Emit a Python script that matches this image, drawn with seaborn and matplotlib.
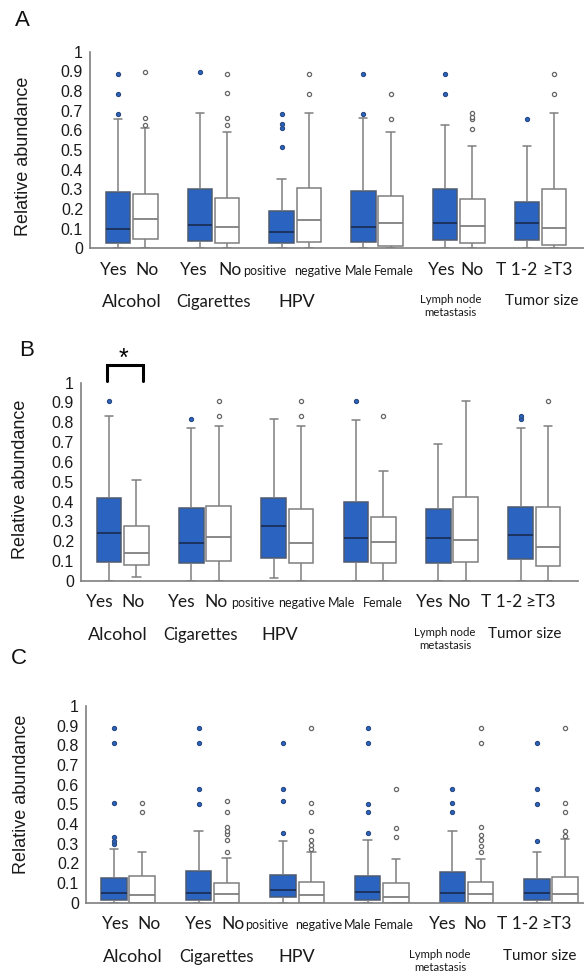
import numpy as np
import pandas as pd
import matplotlib
matplotlib.use("Agg")
import matplotlib.pyplot as plt
import seaborn as sns

# ---------------- data ----------------
levels = ["Yes", "No", "Yes", "No", "positive", "negative", "Male", "Female",
          "Yes", "No", "T 1-2", "\u2265T3"]
groups = ["Alcohol", "Cigarettes", "HPV", "", "Lymph node\nmetastasis", "Tumor size"]
yticklabels = ["0", "0.1", "0.2", "0.3", "0.4", "0.5", "0.6", "0.7", "0.8", "0.9", "1"]
yticks = [0, 0.1, 0.2, 0.3, 0.4, 0.5, 0.6, 0.7, 0.8, 0.9, 1.0]

# Panel A
A_whislo = [0, 0, 0, 0, 0, 0, 0, 0, 0, 0, 0, 0]
A_q1 = [0.029, 0.047, 0.037, 0.025, 0.025, 0.030, 0.034, 0.012, 0.042, 0.029, 0.041, 0.019]
A_med = [0.097, 0.147, 0.120, 0.108, 0.081, 0.142, 0.108, 0.129, 0.129, 0.112, 0.129, 0.103]
A_q3 = [0.288, 0.275, 0.300, 0.258, 0.190, 0.305, 0.292, 0.268, 0.303, 0.249, 0.234, 0.302]
A_whishi = [0.658, 0.610, 0.686, 0.590, 0.351, 0.686, 0.661, 0.590, 0.627, 0.522, 0.522, 0.686]
A_out = [[0.683, 0.785, 0.886], [0.627, 0.664, 0.898], [0.898], [0.627, 0.664, 0.788, 0.886],
         [0.517, 0.610, 0.632, 0.683], [0.786, 0.886], [0.683, 0.886], [0.658, 0.786],
         [0.786, 0.886], [0.607, 0.656, 0.669, 0.686], [0.658], [0.786, 0.886]]

# Panel B
B_whislo = [0, 0.017, 0, 0, 0.012, 0, 0, 0, 0, 0, 0, 0]
B_q1 = [0.096, 0.081, 0.089, 0.099, 0.113, 0.088, 0.093, 0.088, 0.089, 0.094, 0.108, 0.072]
B_med = [0.239, 0.138, 0.192, 0.219, 0.274, 0.190, 0.214, 0.197, 0.214, 0.207, 0.232, 0.170]
B_q3 = [0.418, 0.276, 0.365, 0.375, 0.418, 0.364, 0.396, 0.320, 0.362, 0.421, 0.372, 0.372]
B_whishi = [0.830, 0.508, 0.769, 0.781, 0.815, 0.780, 0.813, 0.552, 0.689, 0.907, 0.769, 0.780]
B_out = [[0.907], [], [0.815], [0.830, 0.907], [], [0.830, 0.907], [0.907], [0.830],
         [], [], [0.815, 0.830], [0.907]]

# Panel C
C_whislo = [0, 0, 0, 0, 0, 0, 0, 0, 0, 0, 0, 0]
C_q1 = [0.014, 0.0, 0.014, 0.0, 0.027, 0.0, 0.014, 0.0, 0.0, 0.0, 0.014, 0.0]
C_med = [0.047, 0.039, 0.047, 0.042, 0.064, 0.039, 0.053, 0.029, 0.047, 0.044, 0.047, 0.044]
C_q3 = [0.124, 0.136, 0.163, 0.098, 0.141, 0.103, 0.137, 0.100, 0.158, 0.103, 0.120, 0.132]
C_whishi = [0.275, 0.256, 0.366, 0.229, 0.312, 0.256, 0.320, 0.224, 0.364, 0.224, 0.256, 0.322]
C_out = [[0.300, 0.315, 0.335, 0.507, 0.814, 0.886], [0.459, 0.505],
         [0.502, 0.580, 0.814, 0.886], [0.259, 0.319, 0.349, 0.366, 0.383, 0.459, 0.515],
         [0.353, 0.515, 0.580, 0.814], [0.273, 0.293, 0.319, 0.364, 0.461, 0.505, 0.886],
         [0.354, 0.461, 0.502, 0.814, 0.886], [0.336, 0.380, 0.580],
         [0.461, 0.505, 0.580], [0.256, 0.290, 0.319, 0.346, 0.383, 0.814, 0.886],
         [0.312, 0.502, 0.580, 0.814], [0.339, 0.364, 0.461, 0.505, 0.886]]

# ---------------- layout ----------------
W, H = 584, 974
BLUE = "#2a64c0"
GRAY = "#7f7f7f"
LAB_FONT = ["Lato", "DejaVu Sans"]
NUM_FONT = ["Liberation Sans", "DejaVu Sans"]

positions = [0, 1, 3, 4, 6, 7, 9, 10, 12, 13, 15, 16]
big = [True, True, True, True, False, False, False, False, True, True, True, True]
group_sizes = [13, 12, 13, 11, 8.2, 11]

panels = [
    dict(name="A", lo=A_whislo, q1=A_q1, med=A_med, q3=A_q3, hi=A_whishi, out=A_out,
         px=(90, 584, 248.3, 51.7), xlim=(-1.03, 17.10),
         ticks=[-0.17, 1.05, 2.79, 4.11, 5.39, 7.34, 8.81, 10.13, 11.89, 12.99, 14.61, 16.11],
         gx=[0.51, 3.49, 6.57, None, 12.2, 15.56], ylab=(-0.117, 0.47), letter=(22, 20)),
    dict(name="B", lo=B_whislo, q1=B_q1, med=B_med, q3=B_q3, hi=B_whishi, out=B_out,
         px=(81, 578, 580.7, 382.7), xlim=(-1.02, 17.09),
         ticks=[-0.33, 0.87, 2.66, 3.90, 5.25, 7.03, 8.49, 9.99, 11.70, 12.76, 14.32, 15.74],
         gx=[0.33, 3.32, 6.23, None, 12.24, 15.16], ylab=(-0.105, 0.51), letter=(27, 350)),
    dict(name="C", lo=C_whislo, q1=C_q1, med=C_med, q3=C_q3, hi=C_whishi, out=C_out,
         px=(86, 584, 902.7, 706.0), xlim=(-0.99, 16.67),
         ticks=[0.07, 1.24, 3.01, 4.22, 5.43, 7.27, 8.65, 9.93, 11.67, 12.80, 14.33, 15.71],
         gx=[0.67, 3.65, 6.49, None, 11.56, 15.10], ylab=(-0.112, 0.55), letter=(19, 658)),
]

sns.set_theme(style="white")
plt.rcParams["font.family"] = NUM_FONT

fig = plt.figure(figsize=(W / 100, H / 100), dpi=100)

for P in panels:
    x0, x1, y0, y1 = P["px"]
    ax = fig.add_axes([x0 / W, (H - y0) / H, (x1 - x0) / W, (y0 - y1) / H])

    rows, orows = [], []
    for i in range(12):
        lvl = "first" if i % 2 == 0 else "second"
        for v in (P["lo"][i], P["q1"][i], P["med"][i], P["q3"][i], P["hi"][i]):
            rows.append(dict(pos=float(positions[i]), val=v, lvl=lvl))
        for v in P["out"][i]:
            orows.append(dict(pos=float(positions[i]), val=v, lvl=lvl))
    df = pd.DataFrame(rows)
    dfo = pd.DataFrame(orows)

    common = dict(x="pos", y="val", native_scale=True, width=0.3, whis=(0, 100),
                  fliersize=0, saturation=1, linewidth=1.1, ax=ax, capwidths=0.3)
    sns.boxplot(data=df[df.lvl == "first"], color=BLUE, linecolor="#4d5a70",
                medianprops=dict(color="#1b2f57", linewidth=1.3),
                whiskerprops=dict(color=GRAY), capprops=dict(color=GRAY), **common)
    sns.boxplot(data=df[df.lvl == "second"], color="white", linecolor=GRAY,
                medianprops=dict(color=GRAY, linewidth=1.3), **common)

    o1 = dfo[dfo.lvl == "first"]
    o2 = dfo[dfo.lvl == "second"]
    sns.scatterplot(data=o1, x="pos", y="val", ax=ax, color=BLUE, edgecolor="#2b4a80",
                    s=9, marker="o", linewidth=0.8, legend=False, zorder=5)
    sns.scatterplot(data=o2, x="pos", y="val", ax=ax, color="white", edgecolor="#666666",
                    s=9, marker="o", linewidth=0.9, legend=False, zorder=5)

    ax.set_xlim(*P["xlim"])
    ax.set_ylim(0, 1)
    ax.set_yticks(yticks, yticklabels)
    ax.set_xticks(P["ticks"], levels)
    ax.tick_params(axis="both", length=0)
    ax.tick_params(axis="y", pad=5, labelsize=11.5, labelcolor="#1a1a1a")
    ax.tick_params(axis="x", pad=19, labelcolor="#1a1a1a")
    for lbl, b in zip(ax.get_xticklabels(), big):
        lbl.set_fontfamily(LAB_FONT)
        lbl.set_fontsize(12.5 if b else 9)
        lbl.set_va("baseline")
    for s in ("top", "right"):
        ax.spines[s].set_visible(False)
    for s in ("left", "bottom"):
        ax.spines[s].set_color(GRAY)
        ax.spines[s].set_linewidth(1.2)
    ax.set_xlabel("")
    ax.set_ylabel("Relative abundance", fontsize=13, color="#1a1a1a")
    ax.yaxis.set_label_coords(*P["ylab"])
    ax.grid(False)

    for g, gx, fs in zip(groups, P["gx"], group_sizes):
        if gx is None or not g:
            continue
        ax.annotate(g, xy=(gx, 0), xycoords=ax.get_xaxis_transform(),
                    xytext=(0, -33), textcoords="offset points", ha="center", va="top",
                    fontsize=fs, family=LAB_FONT, color="#1a1a1a", linespacing=1.25)

    fig.text(P["letter"][0] / W, 1 - P["letter"][1] / H, P["name"], fontsize=16,
             ha="center", va="center", color="#111111")

    if P["name"] == "B":
        ax.plot([-0.07, -0.07, 1.24, 1.24], [1.01, 1.088, 1.088, 1.01], color="black",
                lw=2.2, clip_on=False, solid_joinstyle="miter")
        ax.text(0.52, 1.06, "*", ha="center", va="bottom", fontsize=18, color="black")

fig.savefig("out.png", dpi=100)
